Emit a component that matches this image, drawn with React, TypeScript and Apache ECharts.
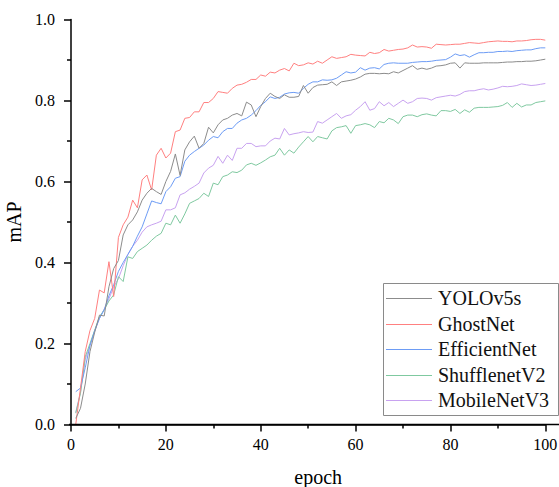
import React, { useEffect, useRef } from "react";
import * as echarts from "echarts";

const FONT = "Liberation Serif, Times New Roman, serif";

const seriesNames = ["YOLOv5s", "GhostNet", "EfficientNet", "ShufflenetV2", "MobileNetV3"];
const seriesColors = ["#8c8c8c", "#ff8080", "#6d9cf5", "#7fc9a0", "#c8a2f0"];

const xTicks = [0, 20, 40, 60, 80, 100];
const yTicks = [0, 0.2, 0.4, 0.6, 0.8, 1.0];

const epochs = Array.from({ length: 100 }, (_, i) => i + 1);

const yolov5s = [
  0.015, 0.04, 0.1, 0.18, 0.228, 0.27, 0.268, 0.34, 0.385, 0.405,
  0.468, 0.493, 0.505, 0.525, 0.554, 0.571, 0.583, 0.575, 0.568, 0.6,
  0.625, 0.668, 0.615, 0.678, 0.698, 0.712, 0.682, 0.694, 0.734, 0.72,
  0.74, 0.752, 0.756, 0.764, 0.768, 0.762, 0.796, 0.789, 0.76, 0.785,
  0.805, 0.818, 0.81, 0.805, 0.814, 0.808, 0.808, 0.81, 0.837, 0.818,
  0.832, 0.838, 0.839, 0.84, 0.846, 0.837, 0.846, 0.848, 0.85, 0.853,
  0.858, 0.865, 0.867, 0.867, 0.866, 0.867, 0.866, 0.871, 0.868, 0.874,
  0.88, 0.886, 0.877, 0.88, 0.877, 0.88, 0.885, 0.886, 0.888, 0.892,
  0.893, 0.88, 0.893, 0.892, 0.892, 0.892, 0.893, 0.893, 0.893, 0.893,
  0.894, 0.895, 0.895, 0.896, 0.896, 0.897, 0.897, 0.898, 0.9, 0.902,
];

const ghostNet = [
  0.0, 0.09, 0.18, 0.232, 0.262, 0.332, 0.325, 0.402, 0.316, 0.462,
  0.493, 0.512, 0.554, 0.535, 0.604, 0.616, 0.579, 0.665, 0.682, 0.658,
  0.67, 0.723, 0.727, 0.756, 0.758, 0.772, 0.772, 0.795, 0.795, 0.805,
  0.822, 0.82, 0.818, 0.83, 0.838, 0.84, 0.845, 0.852, 0.852, 0.863,
  0.86, 0.87, 0.868, 0.875, 0.879, 0.873, 0.892, 0.886, 0.888, 0.893,
  0.89, 0.897, 0.892, 0.9, 0.908, 0.904, 0.906, 0.908, 0.914, 0.912,
  0.911, 0.91, 0.919, 0.916, 0.918, 0.926, 0.922, 0.924, 0.926, 0.927,
  0.93, 0.937, 0.932, 0.933, 0.932, 0.929, 0.939, 0.938, 0.937, 0.938,
  0.939, 0.939, 0.941, 0.943, 0.942, 0.941, 0.943, 0.945, 0.946, 0.947,
  0.946, 0.946, 0.945, 0.947, 0.947, 0.948, 0.95, 0.951, 0.951, 0.949,
];

const efficientNet = [
  0.081, 0.09, 0.14, 0.195, 0.232, 0.262, 0.283, 0.318, 0.345, 0.378,
  0.4, 0.42, 0.44, 0.465, 0.488, 0.52, 0.552, 0.548, 0.545, 0.575,
  0.587, 0.608, 0.612, 0.65, 0.665, 0.674, 0.682, 0.69, 0.702, 0.711,
  0.708, 0.723, 0.731, 0.731, 0.744, 0.752, 0.756, 0.764, 0.775, 0.788,
  0.797, 0.809, 0.805, 0.808, 0.816, 0.819, 0.82, 0.818, 0.83, 0.84,
  0.846, 0.846, 0.851, 0.85, 0.851, 0.855, 0.863, 0.871, 0.868, 0.87,
  0.881, 0.875, 0.88, 0.881, 0.878, 0.889, 0.892, 0.893, 0.892, 0.892,
  0.892, 0.894, 0.895, 0.896, 0.896, 0.897, 0.899, 0.9, 0.901, 0.907,
  0.915, 0.911, 0.913, 0.907, 0.913, 0.918, 0.918, 0.919, 0.919, 0.921,
  0.921, 0.922, 0.921, 0.923, 0.924, 0.925, 0.925, 0.928, 0.93, 0.93,
];

const shufflenetV2 = [
  0.028, 0.077, 0.167, 0.2, 0.233, 0.266, 0.283, 0.305, 0.32, 0.365,
  0.353, 0.414, 0.41, 0.427, 0.435, 0.443, 0.455, 0.465, 0.472, 0.497,
  0.493, 0.517, 0.497, 0.52, 0.546, 0.552, 0.558, 0.571, 0.563, 0.596,
  0.592, 0.612, 0.616, 0.624, 0.622, 0.628, 0.641, 0.645, 0.64, 0.646,
  0.653, 0.661, 0.665, 0.682, 0.665, 0.678, 0.67, 0.685, 0.698, 0.711,
  0.698, 0.711, 0.708, 0.705, 0.725, 0.733, 0.735, 0.738, 0.719, 0.738,
  0.74, 0.743, 0.74, 0.733, 0.748, 0.745, 0.756, 0.752, 0.743, 0.76,
  0.764, 0.764, 0.76, 0.765, 0.767, 0.764, 0.762, 0.775, 0.775, 0.773,
  0.778, 0.768, 0.777, 0.771, 0.781, 0.783, 0.783, 0.783, 0.784, 0.785,
  0.788, 0.795, 0.783, 0.793, 0.784, 0.789, 0.789, 0.795, 0.797, 0.799,
];

const mobileNetV3 = [
  0.03, 0.08, 0.16, 0.195, 0.23, 0.262, 0.285, 0.31, 0.34, 0.36,
  0.392, 0.42, 0.44, 0.455, 0.475, 0.488, 0.493, 0.497, 0.502, 0.53,
  0.53, 0.535, 0.567, 0.572, 0.581, 0.588, 0.596, 0.621, 0.633, 0.64,
  0.662, 0.645, 0.665, 0.652, 0.682, 0.682, 0.694, 0.694, 0.686, 0.688,
  0.688, 0.7, 0.707, 0.705, 0.731, 0.715, 0.718, 0.72, 0.723, 0.721,
  0.722, 0.748, 0.744, 0.752, 0.76, 0.768, 0.756, 0.762, 0.765, 0.776,
  0.785, 0.797, 0.776, 0.78, 0.797, 0.787, 0.795, 0.785, 0.793, 0.801,
  0.793, 0.797, 0.805, 0.806, 0.805, 0.801, 0.807, 0.809, 0.811, 0.813,
  0.811, 0.815, 0.822, 0.824, 0.824, 0.827, 0.829, 0.826, 0.828, 0.831,
  0.835, 0.834, 0.835, 0.837, 0.841, 0.839, 0.837, 0.838, 0.84, 0.842,
];

const allValues = [yolov5s, ghostNet, efficientNet, shufflenetV2, mobileNetV3];

// legend layout (pixels)
const LEG_X = 383;
const LEG_Y = 283;
const LEG_W = 175;
const LEG_H = 132;
const LEG_ROW0 = 298;
const LEG_ROW_STEP = 25.5;

export default function App() {
  const ref = useRef<HTMLDivElement>(null);

  useEffect(() => {
    if (!ref.current) return;
    const chart = echarts.init(ref.current, undefined, { renderer: "svg" });

    const series = seriesNames.map((name, i) => ({
      name,
      type: "line",
      data: epochs.map((e, j) => [e, allValues[i][j]]),
      symbol: "none",
      showSymbol: false,
      color: seriesColors[i],
      lineStyle: { color: seriesColors[i], width: 1 },
      itemStyle: { color: seriesColors[i] },
      z: 5 - i,
    }));

    const axisColor = "#000";

    const legendElements: any[] = [
      {
        type: "rect",
        shape: { x: LEG_X + 0.5, y: LEG_Y + 0.5, width: LEG_W, height: LEG_H },
        style: { fill: "#fff", stroke: "#8a8a8a", lineWidth: 1 },
        z: 20,
      },
    ];
    seriesNames.forEach((name, i) => {
      const cy = LEG_ROW0 + LEG_ROW_STEP * i;
      const ly = Math.round(cy) + 0.5;
      legendElements.push({
        type: "line",
        shape: { x1: LEG_X + 3, y1: ly, x2: LEG_X + 49, y2: ly },
        style: { stroke: seriesColors[i], lineWidth: 1 },
        z: 21,
      });
      legendElements.push({
        type: "text",
        x: LEG_X + 55,
        y: cy,
        style: {
          text: name,
          fontSize: 20,
          fontFamily: FONT,
          fill: "#111",
          verticalAlign: "middle",
          align: "left",
        },
        z: 21,
      });
    });

    chart.setOption({
      animation: false,
      backgroundColor: "#fff",
      textStyle: { fontFamily: FONT, color: "#000" },
      grid: {
        left: 71,
        top: 19.5,
        width: 474.3,
        height: 405,
        containLabel: false,
        outerBoundsMode: "none",
      },
      xAxis: {
        type: "value",
        min: xTicks[0],
        max: xTicks[xTicks.length - 1],
        interval: 20,
        name: "epoch",
        nameLocation: "middle",
        nameGap: 42,
        nameTextStyle: {
          fontSize: 20,
          fontFamily: FONT,
          color: "#000",
          padding: [0, 0, 0, 20],
        },
        axisLine: { lineStyle: { color: axisColor, width: 1.5 } },
        axisTick: { length: 7, lineStyle: { color: axisColor, width: 1.5 } },
        minorTick: { show: true, splitNumber: 2, length: 4, lineStyle: { color: axisColor, width: 1.5 } },
        axisLabel: { fontSize: 16, fontFamily: FONT, color: "#000", margin: 12 },
        splitLine: { show: false },
      },
      yAxis: {
        type: "value",
        min: yTicks[0],
        max: yTicks[yTicks.length - 1],
        interval: 0.2,
        offset: 2,
        name: "mAP",
        nameLocation: "middle",
        nameGap: 38,
        nameRotate: 90,
        nameTextStyle: { fontSize: 20, fontFamily: FONT, color: "#000" },
        axisLine: { show: true, lineStyle: { color: axisColor, width: 1.5 } },
        axisTick: { show: true, length: 7, lineStyle: { color: axisColor, width: 1.5 } },
        minorTick: { show: true, splitNumber: 2, length: 4, lineStyle: { color: axisColor, width: 1.5 } },
        axisLabel: {
          fontSize: 16,
          fontFamily: FONT,
          color: "#000",
          margin: 14,
          formatter: (v: number) => v.toFixed(1),
        },
        splitLine: { show: false },
      },
      graphic: [
        {
          type: "line",
          shape: { x1: 69, y1: 424.5, x2: 559, y2: 424.5 },
          style: { stroke: "#000", lineWidth: 1.5 },
          z: 10,
        },
        ...legendElements,
      ],
      series,
    });

    return () => {
      chart.dispose();
    };
  }, []);

  return (
    <div
      ref={ref}
      style={{ position: "fixed", left: 0, top: 0, width: 559, height: 487, background: "#fff" }}
    />
  );
}
